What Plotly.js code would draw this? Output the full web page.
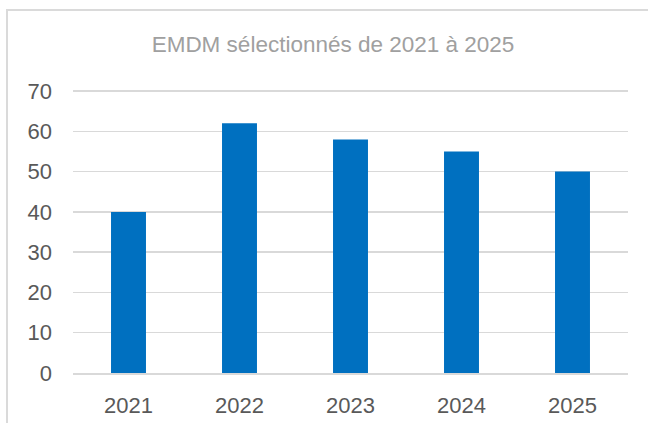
<!DOCTYPE html>
<html>
<head>
<meta charset="utf-8">
<script src="https://cdn.plot.ly/plotly-3.0.1.min.js"></script>
<style>
html,body{margin:0;padding:0;background:#fff;overflow:hidden;}
#wrap{position:relative;width:648px;height:423px;overflow:hidden;}
#frame{position:absolute;left:6px;top:9px;width:700px;height:500px;
  border-top:2px solid #dadada;border-left:2px solid #dadada;pointer-events:none;}
</style>
</head>
<body>
<div id="wrap">
<div id="chart" style="width:648px;height:423px;"></div>
<div id="frame"></div>
</div>
<script>
const years = ["2021", "2022", "2023", "2024", "2025"];
const counts = [40, 62, 58, 55, 50];
const yTicks = [0, 10, 20, 30, 40, 50, 60, 70];
const titleText = "EMDM sélectionnés de 2021 à 2025";

const W = 648, H = 423;
const L = 73, R = 19.5, B = 50;
const yTop = 91;                 // pixel row of the 70 gridline
const pxPerUnit = (H - B - yTop) / 70;
const yMax = 72;                 // extra headroom so the 70 gridline is drawn
const T = yTop - (yMax - 70) * pxPerUnit;

const trace = {
  type: "bar",
  x: years,
  y: counts,
  marker: {color: "#0070C0"},
  hoverinfo: "x+y"
};

const layout = {
  width: W, height: H,
  margin: {l: L, r: R, t: T, b: B, pad: 0},
  paper_bgcolor: "rgba(0,0,0,0)",
  plot_bgcolor: "rgba(0,0,0,0)",
  showlegend: false,
  bargap: 0.685,
  font: {family: "Liberation Sans, Arial, sans-serif", color: "#595959", size: 22},
  title: {
    text: titleText,
    font: {family: "Liberation Sans, Arial, sans-serif", size: 22.5, color: "#a0a0a0"},
    xref: "container", yref: "container",
    x: 333 / W, y: 1 - 44 / H,
    xanchor: "center", yanchor: "middle"
  },
  xaxis: {
    type: "category",
    showgrid: false,
    showline: true,
    linecolor: "#d9d9d9",
    linewidth: 1.5,
    ticks: "",
    ticklabelstandoff: 12,
    tickfont: {size: 22, color: "#595959"},
    zeroline: false
  },
  yaxis: {
    range: [0, yMax],
    tickmode: "array",
    tickvals: yTicks,
    showgrid: true,
    gridcolor: "#d9d9d9",
    gridwidth: 1.5,
    zeroline: false,
    showline: false,
    ticks: "",
    ticklabelstandoff: 20,
    tickfont: {size: 22, color: "#595959"}
  }
};

Plotly.newPlot("chart", [trace], layout, {displayModeBar: false, staticPlot: true});
</script>
</body>
</html>
